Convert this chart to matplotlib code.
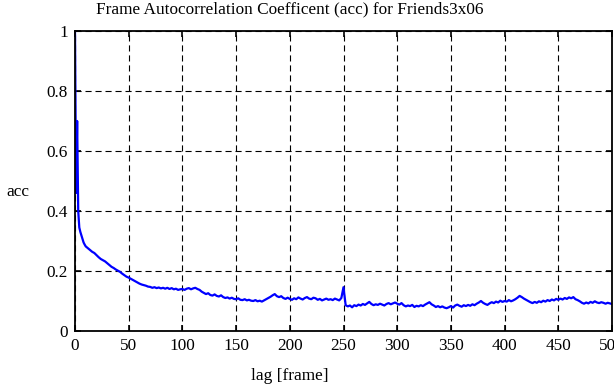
import numpy as np
import matplotlib.pyplot as plt
from matplotlib.ticker import FuncFormatter

plt.rcParams.update({
    "font.family": "serif",
    "font.serif": ["Liberation Serif", "DejaVu Serif"],
    "font.size": 12.4,
})

# lags 0..9 one by one, then every second frame
lag_head = [0, 1, 2, 3, 4, 5, 6, 7, 8, 9]
acc_head = [1.0, 0.46, 0.70, 0.40, 0.345, 0.33, 0.318, 0.305, 0.295, 0.288]

lag_tail = np.arange(10, 501, 2)
acc_10_98 = [0.282, 0.276, 0.270, 0.264, 0.260, 0.253, 0.246, 0.240, 0.236, 0.232,
             0.226, 0.220, 0.214, 0.210, 0.205, 0.201, 0.197, 0.191, 0.186, 0.181,
             0.178, 0.174, 0.170, 0.166, 0.162, 0.158, 0.155, 0.153, 0.151, 0.148,
             0.147, 0.144, 0.146, 0.143, 0.145, 0.142, 0.144, 0.141, 0.144, 0.140,
             0.143, 0.139, 0.141, 0.137, 0.139]
acc_100_148 = [0.140, 0.137, 0.141, 0.143, 0.139, 0.142, 0.144, 0.140, 0.137, 0.131,
               0.127, 0.123, 0.126, 0.120, 0.118, 0.122, 0.117, 0.115, 0.119, 0.113,
               0.110, 0.112, 0.108, 0.111, 0.107]
acc_150_198 = [0.106, 0.109, 0.104, 0.103, 0.106, 0.102, 0.104, 0.101, 0.100, 0.103,
               0.099, 0.101, 0.098, 0.102, 0.106, 0.110, 0.114, 0.119, 0.123, 0.116,
               0.113, 0.116, 0.110, 0.107, 0.111]
acc_200_248 = [0.107, 0.104, 0.109, 0.106, 0.112, 0.108, 0.105, 0.110, 0.113, 0.108,
               0.106, 0.111, 0.109, 0.104, 0.107, 0.102, 0.105, 0.108, 0.104, 0.106,
               0.103, 0.108, 0.105, 0.102, 0.110]
acc_250_298 = [0.146, 0.086, 0.082, 0.085, 0.079, 0.086, 0.083, 0.088, 0.085, 0.090,
               0.087, 0.092, 0.097, 0.090, 0.086, 0.089, 0.087, 0.091, 0.088, 0.085,
               0.090, 0.093, 0.089, 0.092, 0.095]
acc_300_348 = [0.091, 0.088, 0.093, 0.086, 0.082, 0.085, 0.083, 0.087, 0.080, 0.084,
               0.082, 0.086, 0.083, 0.088, 0.092, 0.096, 0.089, 0.085, 0.080, 0.083,
               0.079, 0.082, 0.078, 0.076, 0.079]
acc_350_398 = [0.083, 0.078, 0.085, 0.088, 0.084, 0.081, 0.086, 0.083, 0.087, 0.084,
               0.089, 0.086, 0.091, 0.095, 0.100, 0.094, 0.090, 0.087, 0.092, 0.096,
               0.093, 0.098, 0.095, 0.101, 0.097]
acc_400_448 = [0.100, 0.098, 0.103, 0.099, 0.102, 0.106, 0.111, 0.117, 0.113, 0.108,
               0.104, 0.100, 0.096, 0.093, 0.097, 0.094, 0.099, 0.096, 0.101, 0.098,
               0.103, 0.100, 0.105, 0.102, 0.107]
acc_450_500 = [0.104, 0.108, 0.105, 0.110, 0.107, 0.112, 0.109, 0.113, 0.106, 0.103,
               0.099, 0.094, 0.091, 0.095, 0.092, 0.097, 0.094, 0.099, 0.095, 0.093,
               0.096, 0.094, 0.091, 0.094, 0.092, 0.090]

lag = np.concatenate([lag_head, lag_tail])
acc = np.concatenate([acc_head, acc_10_98, acc_100_148, acc_150_198, acc_200_248,
                      acc_250_298, acc_300_348, acc_350_398, acc_400_448, acc_450_500])

xticks = np.arange(0, 501, 50)
yticks = [0, 0.2, 0.4, 0.6, 0.8, 1]

fig = plt.figure(figsize=(6.14, 3.85), dpi=100)
ax = fig.add_axes([75 / 614, 54 / 385, 537 / 614, 300 / 385])

ax.plot(lag, acc, color=(0, 0, 1), linewidth=1.6)

ax.set_xlim(0, 500)
ax.set_ylim(0, 1)
ax.set_xticks(xticks)
ax.set_yticks(yticks)
ax.yaxis.set_major_formatter(FuncFormatter(lambda v, p: "%g" % v))
ax.tick_params(direction="in", length=4.5, width=1.2, top=True, right=True,
               pad=5)
ax.grid(True, color="black", linewidth=0.8, linestyle=(0, (5.5, 3.5)))
for s in ax.spines.values():
    s.set_linewidth(1.3)

fig.text(290 / 614, 1 - 9 / 385, "Frame Autocorrelation Coefficent (acc) for Friends3x06",
         ha="center", va="center")
fig.text(290 / 614, 1 - 376 / 385, "lag [frame]", ha="center", va="center")
fig.text(18 / 614, 1 - 192 / 385, "acc", ha="center", va="center")

fig.savefig("out.png", dpi=100)
